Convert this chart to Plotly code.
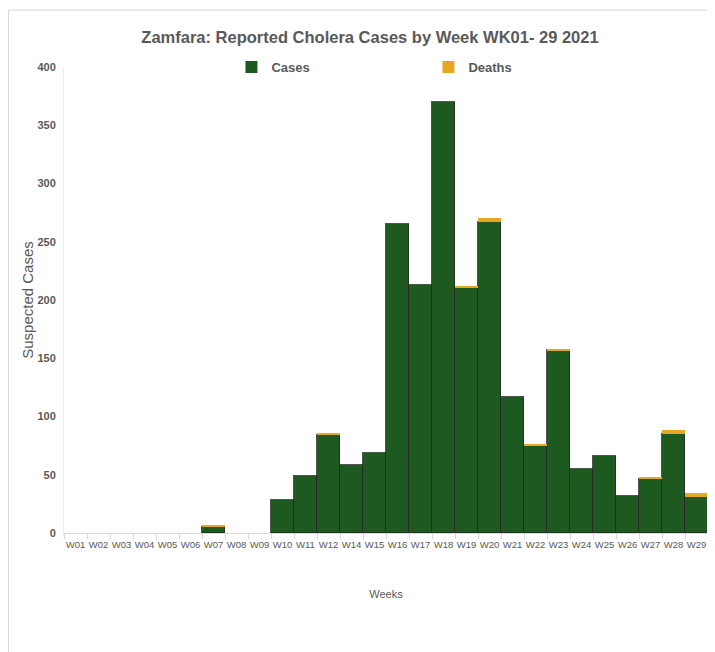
import plotly.graph_objs as go

weeks = ["W01", "W02", "W03", "W04", "W05", "W06", "W07", "W08", "W09", "W10",
         "W11", "W12", "W14", "W15", "W16", "W17", "W18", "W19", "W20", "W21",
         "W22", "W23", "W24", "W25", "W26", "W27", "W28", "W29"]
cases = [0, 0, 0, 0, 0, 0, 5, 0, 0, 28,
         49, 84, 58, 69, 265, 213, 370, 210, 267, 117,
         75, 157, 55, 66, 32, 46, 85, 31]
deaths = [0, 0, 0, 0, 0, 0, 2, 0, 0, 0,
          0, 2, 0, 0, 0, 0, 0, 2, 3, 0,
          1, 1, 0, 0, 0, 2, 3, 3]

font = "Liberation Sans, Arial, sans-serif"
grey = '#595959'

fig = go.Figure()
fig.add_trace(go.Bar(x=weeks, y=cases, name="<b>Cases</b>",
                     marker_color='rgb(30,90,32)',
                     # no outline on empty weeks so the baseline stays light
                     marker_line=dict(color='rgba(40,40,40,0.8)',
                                      width=[1 if c else 0 for c in cases])))
fig.add_trace(go.Bar(x=weeks, y=deaths, name="<b>Deaths</b>",
                     marker_color='rgb(230,168,35)',
                     marker_line=dict(width=0)))

# page has an 8px body margin, so the figure is 8px smaller each way
fig.update_layout(width=707, height=644,
                  barmode='stack', bargap=0,
                  plot_bgcolor='white', paper_bgcolor='white',
                  margin=dict(l=56, r=7, t=59, b=119),
                  title=dict(text="<b>Zamfara: Reported Cholera Cases by Week WK01- 29 2021</b>",
                             x=0.512, xanchor='center', y=0.955, yanchor='middle',
                             yref='container',
                             font=dict(family=font, size=16.5, color=grey)),
                  legend=dict(orientation='h', x=0.26, xanchor='left', y=1.0, yanchor='middle',
                              entrywidth=152, entrywidthmode='pixels',
                              itemwidth=30, traceorder='normal',
                              font=dict(family=font, size=13, color=grey)),
                  shapes=[dict(type='rect', xref='paper', yref='paper',
                               x0=-0.0862, x1=1.05, y0=-0.30, y1=1.122,
                               line=dict(color='#d9d9d9', width=1),
                               fillcolor='rgba(0,0,0,0)', layer='below')],
                  )

fig.update_xaxes(showgrid=False, automargin=False,
                 title=dict(text="Weeks", standoff=40,
                            font=dict(family=font, size=11, color=grey)),
                 tickfont=dict(family=font, size=9.5, color=grey),
                 showline=True, linecolor='#d9d9d9', linewidth=1,
                 ticks='outside', tickson='boundaries', ticklen=5, tickcolor='#d9d9d9',
                 ticklabelstandoff=3, tickangle=0)
fig.update_yaxes(range=[0, 400], dtick=50, automargin=False,
                 showgrid=False, zeroline=False,
                 showline=True, linecolor='#ececec', linewidth=1,
                 title=dict(text="Suspected Cases", standoff=0,
                            font=dict(family=font, size=15, color=grey)),
                 tickfont=dict(family=font, size=11, color=grey),
                 tickprefix="<b>", ticksuffix="</b>",
                 ticks='', ticklabelstandoff=5)

fig.write_html("out.html")
